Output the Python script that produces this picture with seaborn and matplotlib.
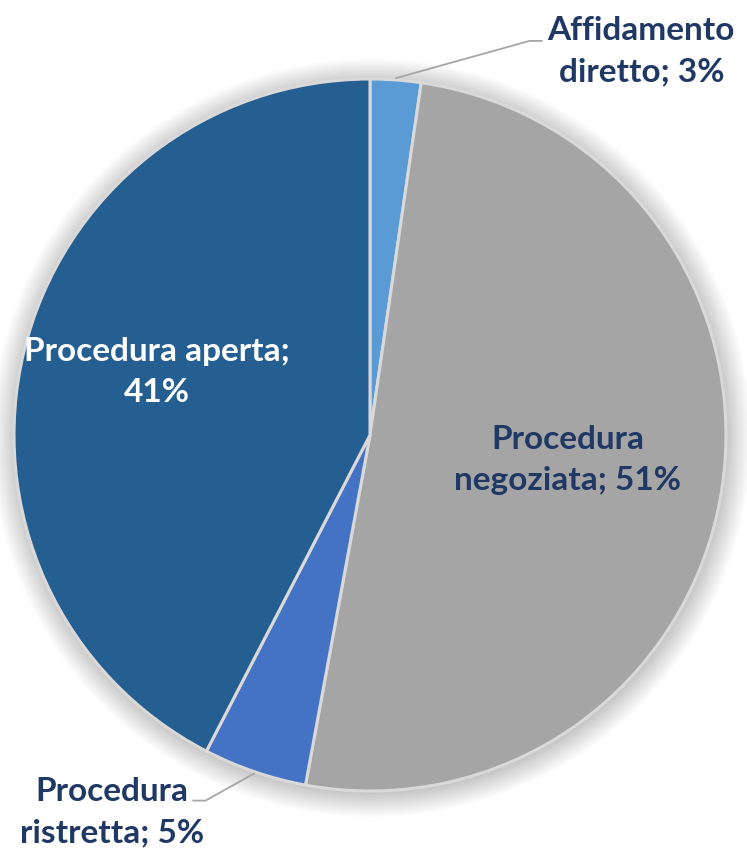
import matplotlib
matplotlib.use("Agg")
import matplotlib.pyplot as plt
import numpy as np
import seaborn as sns

sns.set_theme(style="white")
plt.rcParams['font.family'] = ['Lato', 'DejaVu Sans']

# dati
categorie = ['Affidamento\ndiretto', 'Procedura\nnegoziata', 'Procedura\nristretta', 'Procedura aperta;\n']
valori = [2.3, 50.6, 4.7, 42.4]
percentuali = ['3%', '51%', '5%', '41%']
colori = ['#5B9BD5', '#A5A5A5', '#4472C4', '#255E91']
colore_testo = '#1F3864'

W, H = 747, 855
cx, cy, R = 370, 435, 356

fig = plt.figure(figsize=(W / 100, H / 100), dpi=100)
ax = fig.add_axes([0, 0, 1, 1])

# ombra morbida attorno alla torta
for k in range(14):
    ombra = plt.Circle((0.004, -0.008), 1.0 + k * 0.005, color='black',
                       alpha=0.016, lw=0, zorder=0)
    ax.add_patch(ombra)

wedges, _ = ax.pie(valori, colors=colori, startangle=90, counterclock=False,
                   radius=1, wedgeprops=dict(edgecolor='#D9D9D9', linewidth=2.2))
for w in wedges:
    w.set_zorder(2)

ax.set_xlim(-cx / R, (W - cx) / R)
ax.set_ylim(-(H - cy) / R, cy / R)
ax.set_aspect('equal')
ax.axis('off')

def testo(i):
    c = categorie[i]
    if c.endswith('\n'):
        return c + percentuali[i]
    return c + '; ' + percentuali[i]

def angolo(w):
    return np.deg2rad((w.theta1 + w.theta2) / 2)

font = dict(fontsize=24, fontweight='bold', ha='center', va='center', linespacing=1.5)

# etichette interne
ax.text(0.555, -0.07, testo(1), color=colore_testo, zorder=5, **font)
ax.text(-0.600, 0.176, testo(3), color='white', zorder=5, **font)

# etichette esterne con linee guida
esterne = [(0, (0.762, 1.078), (0.448, 1.107), 1),
           (2, (-0.725, -1.059), (-0.462, -1.027), -1)]
for i, (tx, ty), (ex, ey), lato in esterne:
    a = angolo(wedges[i])
    x0, y0 = 1.005 * np.cos(a), 1.005 * np.sin(a)
    ax.plot([x0, ex, ex + 0.035 * lato], [y0, ey, ey], color='#A6A6A6', lw=1.3, zorder=3)
    ax.text(tx, ty, testo(i), color=colore_testo, zorder=5, **font)

fig.savefig('out.png', dpi=100, facecolor='white')
